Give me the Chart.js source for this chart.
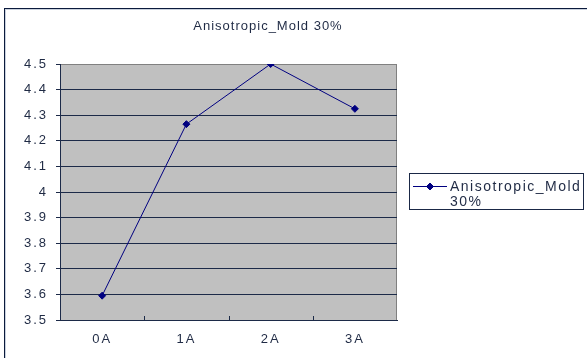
<!DOCTYPE html>
<html>
<head>
<meta charset="utf-8">
<script src="https://cdn.jsdelivr.net/npm/chart.js@4.4.0/dist/chart.umd.min.js"></script>
<style>
  html, body { margin: 0; padding: 0; background: #fff; }
</style>
</head>
<body>
<canvas id="myChart" width="587" height="358"></canvas>
<script>
// chart data
const titleText = "Anisotropic_Mold 30%";
const seriesLabel = "Anisotropic_Mold 30%";
const categories = ["0A", "1A", "2A", "3A"];
const seriesValues = [3.595, 4.265, 4.5, 4.325];
const yTicks = [3.5, 3.6, 3.7, 3.8, 3.9, 4, 4.1, 4.2, 4.3, 4.4, 4.5];

const textColor = "#1f2a44";
const gridColor = "#1c2a48";
const lineColor = "#000080";

// frame, plot background, title, legend, x tick marks
const decor = {
  id: "decor",
  beforeDraw(chart) {
    const ctx = chart.ctx;
    const a = chart.chartArea;
    ctx.save();
    ctx.fillStyle = "#fff";
    ctx.fillRect(0, 0, chart.width, chart.height);
    // outer frame
    ctx.strokeStyle = "#0b1a3c";
    ctx.lineWidth = 1;
    ctx.strokeRect(4.5, 8.5, 700, 500);
    ctx.strokeStyle = "#c9d1dd";
    ctx.strokeRect(5.5, 9.5, 700, 500);
    // plot area
    ctx.fillStyle = "#c0c0c0";
    ctx.fillRect(a.left, a.top, a.right - a.left, a.bottom - a.top);
    ctx.strokeStyle = "#808080";
    ctx.beginPath();
    ctx.moveTo(a.left, a.top + 0.5);
    ctx.lineTo(a.right - 0.5, a.top + 0.5);
    ctx.lineTo(a.right - 0.5, a.bottom);
    ctx.stroke();
    ctx.restore();
    ctx.letterSpacing = "2px";
  },
  afterDraw(chart) {
    const ctx = chart.ctx;
    const a = chart.chartArea;
    const xs = chart.scales.x;
    ctx.save();
    // x tick marks pointing up into the plot
    ctx.strokeStyle = gridColor;
    ctx.lineWidth = 1;
    ctx.beginPath();
    for (let i = 1; i < categories.length; i++) {
      const x = Math.round((xs.getPixelForValue(i - 1) + xs.getPixelForValue(i)) / 2) + 0.5;
      ctx.moveTo(x, a.bottom);
      ctx.lineTo(x, a.bottom - 4);
    }
    ctx.stroke();

    // title
    ctx.letterSpacing = "1px";
    ctx.fillStyle = textColor;
    ctx.font = "13px 'Liberation Sans', Arial, sans-serif";
    ctx.textAlign = "center";
    ctx.textBaseline = "middle";
    ctx.fillText(titleText, 268, 26);

    // legend
    ctx.strokeStyle = "#1a2846";
    ctx.strokeRect(409.5, 173.5, 174, 36);
    ctx.strokeStyle = lineColor;
    ctx.beginPath();
    ctx.moveTo(413, 186.5);
    ctx.lineTo(447, 186.5);
    ctx.stroke();
    ctx.fillStyle = lineColor;
    Chart.helpers.drawPoint(ctx, { pointStyle: "rectRot", radius: 3.5, borderWidth: 1 }, 430, 186.5);
    ctx.fillStyle = textColor;
    ctx.letterSpacing = "1.5px";
    ctx.font = "14px 'Liberation Sans', Arial, sans-serif";
    ctx.textAlign = "left";
    const parts = seriesLabel.split(" ");
    ctx.fillText(parts[0], 450, 187);
    ctx.fillText(parts[1], 450, 202);
    ctx.restore();
  }
};

const ctx = document.getElementById("myChart").getContext("2d");
const myChart = new Chart(ctx, {
  type: "line",
  data: {
    labels: categories,
    datasets: [{
      label: seriesLabel,
      data: seriesValues,
      borderColor: lineColor,
      backgroundColor: lineColor,
      borderWidth: 1,
      pointStyle: "rectRot",
      pointRadius: 3.5,
      pointBackgroundColor: lineColor,
      pointBorderColor: lineColor,
      tension: 0,
    }],
  },
  options: {
    responsive: false,
    animation: false,
    devicePixelRatio: 1,
    layout: { padding: { left: 4, top: 64, right: 190, bottom: 0 } },
    plugins: {
      legend: { display: false },
      title: { display: false },
      tooltip: { enabled: false },
    },
    scales: {
      x: {
        type: "category",
        offset: true,
        afterFit: (s) => { s.height = 38; },
        grid: { display: true, drawOnChartArea: false, drawTicks: false },
        border: { color: gridColor, width: 1 },
        ticks: {
          color: textColor,
          padding: 12,
          font: { family: "'Liberation Sans', Arial, sans-serif", size: 13 },
        },
      },
      y: {
        min: 3.5,
        max: 4.5,
        afterFit: (s) => { s.width = 56; },
        afterBuildTicks: (s) => { s.ticks = yTicks.map((v) => ({ value: v })); },
        grid: {
          color: (c) => (c.tick && c.tick.value === 4.5 ? "#808080" : gridColor),
          lineWidth: 1,
          tickLength: 4,
          tickColor: gridColor,
        },
        border: { color: gridColor, width: 1 },
        ticks: {
          color: textColor,
          padding: 8,
          callback: (v) => String(v),
          font: { family: "'Liberation Sans', Arial, sans-serif", size: 13 },
        },
      },
    },
  },
  plugins: [decor],
});
</script>
</body>
</html>
